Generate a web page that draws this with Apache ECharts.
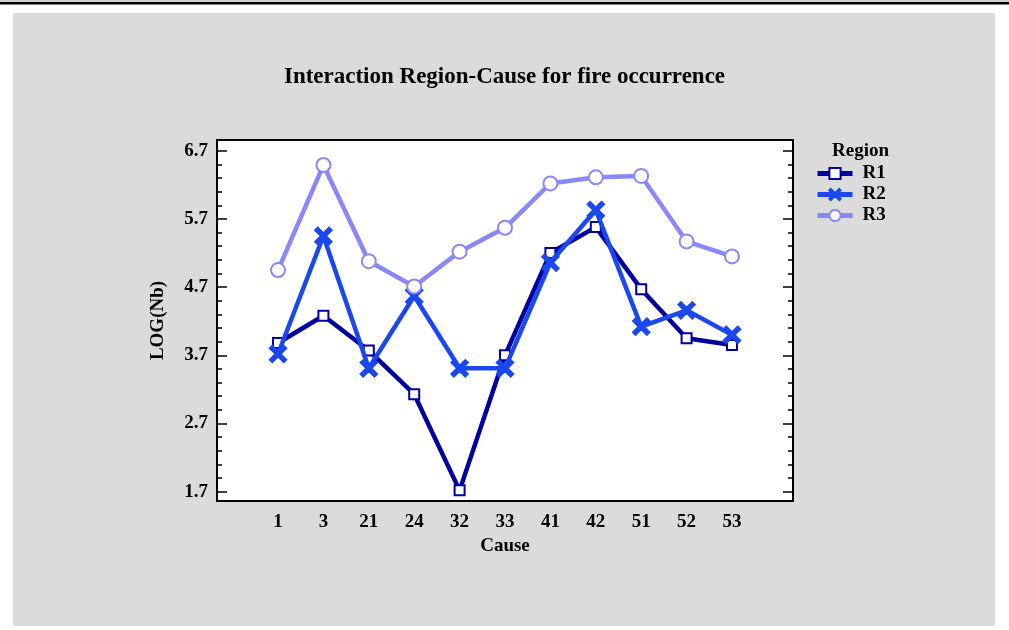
<!DOCTYPE html>
<html>
<head>
<meta charset="utf-8">
<script src="https://cdn.jsdelivr.net/npm/echarts@6/dist/echarts.min.js"></script>
<style>
html,body{margin:0;padding:0;background:#fff;}
#c{width:1009px;height:630px;}
</style>
</head>
<body>
<div id="c"></div>
<script>
var causes = ['1','3','21','24','32','33','41','42','51','52','53'];
var seriesNames = ['R1','R2','R3'];
var r1 = [3.88, 4.28, 3.77, 3.13, 1.72, 3.70, 5.20, 5.58, 4.67, 3.95, 3.85];
var r2 = [3.72, 5.45, 3.51, 4.57, 3.51, 3.51, 5.06, 5.83, 4.12, 4.36, 4.00];
var r3 = [4.95, 6.49, 5.08, 4.71, 5.22, 5.57, 6.22, 6.31, 6.33, 5.37, 5.15];
var yMajorTicks = [1.7, 2.7, 3.7, 4.7, 5.7, 6.7];
var yMinorTicks = [1.9, 2.1, 2.3, 2.5, 2.9, 3.1, 3.3, 3.5, 3.9, 4.1, 4.3, 4.5, 4.9, 5.1, 5.3, 5.5, 5.9, 6.1, 6.3, 6.5];

var FONT = "'Liberation Serif','Times New Roman',serif";
var colors = ['#0000a0', '#1a48ee', '#8888f8'];
var xPath = 'path://M0,1.2L1.2,0L5,3.8L8.8,0L10,1.2L6.2,5L10,8.8L8.8,10L5,6.2L1.2,10L0,8.8L3.8,5Z';
var symbols = ['emptyRect', xPath, 'emptyCircle'];
var symbolSizes = [10, 15, 14];
var values = [r1, r2, r3];
var yMin = 1.564, yMax = 6.857;

function yAxis(pos, ticks, len, labels) {
  return {
    type: 'value', position: pos, min: yMin, max: yMax,
    axisLine: {show: false, onZero: false},
    splitLine: {show: false},
    axisTick: {show: true, inside: true, length: len, customValues: ticks, lineStyle: {color: '#000', width: 1.5}},
    axisLabel: labels ? {show: true, customValues: ticks, formatter: function (v) { return v.toFixed(1); },
      color: '#000', fontFamily: FONT, fontWeight: 'bold', fontSize: 19, margin: 9} : {show: false},
    name: labels ? 'LOG(Nb)' : '',
    nameLocation: 'middle', nameGap: 49, nameRotate: 90,
    nameTextStyle: {color: '#000', fontFamily: FONT, fontWeight: 'bold', fontSize: 19}
  };
}

var chart = echarts.init(document.getElementById('c'), null, {renderer: 'canvas'});
chart.setOption({
  animation: false,
  backgroundColor: '#ffffff',
  graphic: [
    {type: 'rect', z: -10, silent: true, shape: {x: 13, y: 13, width: 982, height: 613}, style: {fill: '#dbdbdb'}},
    {type: 'rect', z: -10, silent: true, shape: {x: 0, y: 0.5, width: 1009, height: 1}, style: {fill: '#a0a0a0'}},
    {type: 'rect', z: -10, silent: true, shape: {x: 0, y: 2, width: 1009, height: 2.5}, style: {fill: '#000'}}
  ],
  title: [
    {text: 'Interaction Region-Cause for fire occurrence', left: 'center', top: 61,
      textStyle: {fontFamily: FONT, fontWeight: 'bold', fontSize: 23, color: '#000'}},
    {text: 'Region', left: 832, top: 142, padding: 0,
      textStyle: {fontFamily: FONT, fontWeight: 'bold', fontSize: 19, color: '#000'}}
  ],
  legend: {
    orient: 'vertical', left: 815, top: 163, padding: 0, itemWidth: 35, itemHeight: 14, itemGap: 0,
    data: seriesNames,
    lineStyle: {width: 5},
    textStyle: {fontFamily: FONT, fontWeight: 'bold', fontSize: 19, color: '#000', padding: [0, 0, 0, 5], lineHeight: 21}
  },
  grid: {left: 217, top: 140, right: 216, bottom: 129, show: true, backgroundColor: '#fff', borderColor: '#000', borderWidth: 2},
  xAxis: {
    type: 'value', min: -1.344, max: 11.344,
    axisLine: {show: false, onZero: false}, splitLine: {show: false}, axisTick: {show: false},
    axisLabel: {customValues: causes.map(function (c, i) { return i; }),
      formatter: function (v) { return causes[Math.round(v)]; },
      color: '#000', fontFamily: FONT, fontWeight: 'bold', fontSize: 19, margin: 12},
    name: 'Cause', nameLocation: 'middle', nameGap: 36,
    nameTextStyle: {color: '#000', fontFamily: FONT, fontWeight: 'bold', fontSize: 19}
  },
  yAxis: [
    yAxis('left', yMajorTicks, 10, true),
    yAxis('left', yMinorTicks, 5, false),
    yAxis('right', yMajorTicks, 10, false),
    yAxis('right', yMinorTicks, 5, false)
  ],
  series: seriesNames.map(function (n, k) {
    return {
      name: n, type: 'line', yAxisIndex: 0,
      data: values[k].map(function (v, i) { return [i, v]; }),
      symbol: symbols[k], symbolSize: symbolSizes[k],
      lineStyle: {color: colors[k], width: 4.5},
      itemStyle: {color: colors[k], borderColor: colors[k], borderWidth: 3},
      z: 2 + k
    };
  })
});
</script>
</body>
</html>
